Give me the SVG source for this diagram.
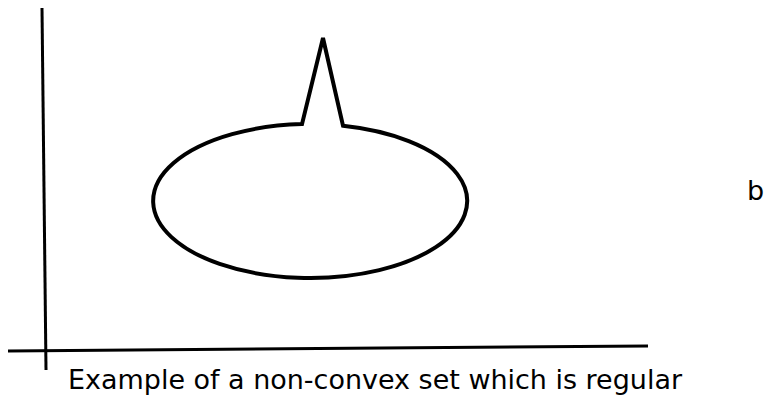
<svg xmlns="http://www.w3.org/2000/svg" width="767" height="402" viewBox="0 0 767 402">
<style>
.ax{stroke:#000;stroke-width:3;fill:none;stroke-linecap:butt}
.shape{stroke:#000;stroke-width:4;fill:none;stroke-linejoin:miter}
.lbl{font-family:"DejaVu Sans","Liberation Sans",sans-serif;fill:#000}
</style>
<rect width="767" height="402" fill="#fff"/>
<g id="axes">
<line class="ax" x1="42" y1="8" x2="46" y2="370"/>
<line class="ax" x1="8" y1="351" x2="648" y2="346"/>
</g>
<g id="set">
<path class="shape" d="M 302 124.1 L 323 38 L 343 125.7 A 157 77 0 1 1 302 124.1 Z"/>
</g>
<g id="label-b">
<text class="lbl" x="747" y="200" font-size="27">b</text>
</g>
<g id="caption">
<text class="lbl" x="68" y="389" font-size="26" textLength="614" lengthAdjust="spacingAndGlyphs">Example of a non-convex set which is regular</text>
</g>
</svg>
